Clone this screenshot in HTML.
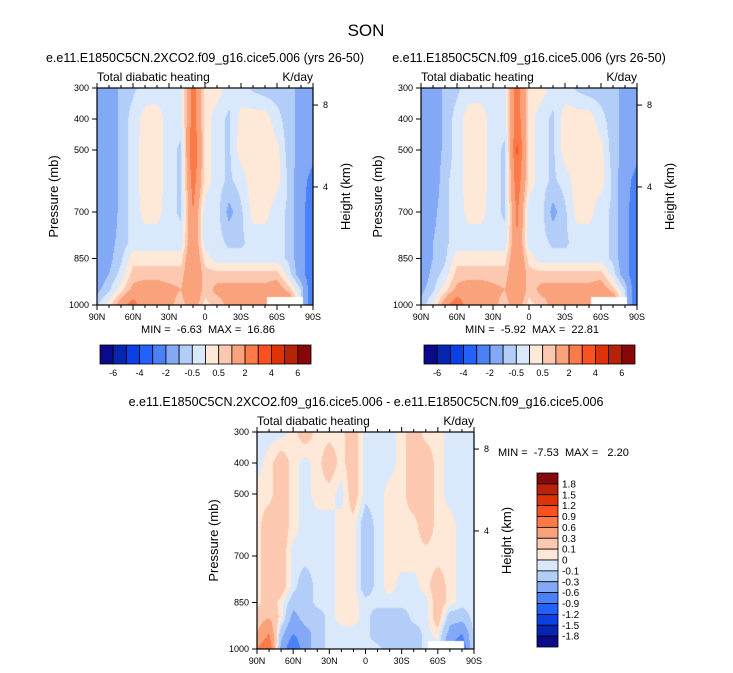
<!DOCTYPE html>
<html><head><meta charset="utf-8">
<style>
body{margin:0;background:#fff;width:733px;height:673px;overflow:hidden;position:relative;font-family:"Liberation Sans",sans-serif}
canvas{position:absolute}
svg{position:absolute;left:0;top:0}
</style></head>
<body>
<canvas id="c1" style="left:97px;top:88px" width="216" height="217"></canvas>
<canvas id="c2" style="left:421px;top:88px" width="216" height="217"></canvas>
<canvas id="c3" style="left:257px;top:432px" width="217" height="217"></canvas>
<svg id="ov" width="733" height="673" font-family="Liberation Sans, sans-serif">
<text x="366" y="36" font-size="17" text-anchor="middle">SON</text>
<text x="205" y="62" font-size="12.5" text-anchor="middle">e.e11.E1850C5CN.2XCO2.f09_g16.cice5.006 (yrs 26-50)</text>
<text x="529" y="62" font-size="12.5" text-anchor="middle">e.e11.E1850C5CN.f09_g16.cice5.006 (yrs 26-50)</text>
<text x="366" y="406" font-size="12.5" text-anchor="middle">e.e11.E1850C5CN.2XCO2.f09_g16.cice5.006 - e.e11.E1850C5CN.f09_g16.cice5.006</text>
<text x="208" y="333" font-size="11" text-anchor="middle" xml:space="preserve">MIN =  -6.63  MAX =  16.86</text>
<text x="532" y="333" font-size="11" text-anchor="middle" xml:space="preserve">MIN =  -5.92  MAX =  22.81</text>
<text x="498" y="456" font-size="11" xml:space="preserve">MIN =  -7.53  MAX =   2.20</text>
</svg>
<script>
const lats=[90,80,70,60,50,40,30,20,10,0,-10,-20,-30,-40,-50,-60,-70,-80,-90];
const levels=[300,400,500,600,700,800,850,900,950,1000];
const fieldCtl=[
[-1.5,-1.5,-0.8,-0.6,-0.3,-0.3,-0.3,-0.3,2.5,0.3,0.3,-0.3,-0.3,-0.6,-0.8,-0.8,-0.8,-1.2,-1.5],
[-1.5,-1.5,-0.8,-0.3,0.2,0.3,-0.3,-0.3,2.5,0.3,-0.3,-0.6,0.2,0.3,0.3,-0.3,-0.8,-1.2,-1.5],
[-1.5,-1.5,-0.8,-0.3,0.3,0.3,-0.3,-0.6,3.0,0.3,-0.3,-0.6,0.3,0.3,0.3,0.2,-0.8,-1.2,-1.5],
[-1.5,-1.5,-0.8,-0.3,0.3,0.3,-0.3,-0.6,2.5,0.3,-0.3,-0.6,-0.3,0.3,0.3,0.2,-0.6,-1.5,-2.5],
[-1.5,-1.5,-0.8,-0.3,0.2,0.2,-0.3,-0.6,2.0,-0.3,-0.3,-1.2,-0.6,0.2,0.2,-0.3,-0.6,-1.5,-3],
[-1.5,-1.2,-0.8,-0.3,-0.3,-0.3,-0.3,-0.3,2.0,-0.3,-0.3,-0.6,-0.6,-0.3,-0.3,-0.3,-0.6,-1.5,-3],
[-1.5,-1.2,-0.6,0.3,0.3,0.3,0.3,0.3,2.0,0.3,-0.3,-0.3,-0.3,-0.3,-0.3,-0.3,-0.6,-1.5,-3],
[-1.5,-1.0,-0.3,0.7,0.7,0.7,0.7,0.7,2.0,0.7,0.7,0.7,0.7,0.7,0.7,0.7,-0.3,-1.5,-3],
[-1.2,-0.6,0.3,1.2,1.5,1.5,1.2,1.0,2.0,0.7,1.2,1.2,1.2,1.2,1.2,1.5,0.7,-0.5,-3],
[-0.6,0.3,1.5,2.5,1.2,1.2,1.2,0.7,1.5,0.3,0.7,1.2,1.2,1.2,1.2,1.2,2.5,-0.6,-3]];
const field2x=[
[-1.5,-1.5,-0.8,-0.6,-0.3,-0.3,-0.3,-0.3,2.7,0.3,0.3,-0.3,-0.3,-0.6,-0.8,-0.8,-0.8,-1.2,-1.5],
[-1.5,-1.5,-0.8,-0.3,0.3,0.3,-0.3,-0.3,2.7,0.3,-0.3,-0.6,0.3,0.3,0.3,-0.3,-0.8,-1.2,-1.5],
[-1.5,-1.5,-0.8,-0.3,0.3,0.3,-0.3,-0.6,3.2,0.3,-0.3,-0.6,0.3,0.3,0.3,0.2,-0.8,-1.2,-1.5],
[-1.5,-1.5,-0.6,-0.3,0.3,0.3,-0.3,-0.6,2.7,0.3,-0.3,-0.6,-0.3,0.3,0.3,0.2,-0.6,-1.5,-2.5],
[-1.5,-1.2,-0.6,-0.3,0.2,0.2,-0.3,-0.6,2.2,-0.3,-0.3,-1.2,-0.6,0.2,0.2,-0.3,-0.6,-1.5,-3],
[-1.5,-1.0,-0.6,-0.3,-0.3,-0.3,-0.3,-0.3,2.0,-0.3,-0.3,-0.6,-0.6,-0.3,-0.3,-0.3,-0.6,-1.5,-3],
[-1.5,-1.0,-0.6,0.3,0.3,0.3,0.3,0.3,2.0,0.3,-0.3,-0.3,-0.3,-0.3,-0.3,-0.3,-0.6,-1.5,-3],
[-1.5,-0.8,-0.3,0.7,0.7,0.7,0.7,0.7,2.0,0.7,0.7,0.7,0.7,0.7,0.7,0.7,-0.3,-1.5,-3],
[-1.2,-0.6,0.3,1.2,1.5,1.5,1.2,1.0,2.0,0.7,1.2,1.2,1.2,1.2,1.2,1.5,0.7,-0.5,-3],
[-0.8,0.0,1.5,3.0,1.2,1.2,1.2,0.7,1.5,0.3,0.7,1.2,1.2,1.2,1.2,1.2,2.5,-0.6,-3]];
const fieldDiff=[
[-0.05,-0.05,-0.05,0.05,0.2,0.05,0.05,0.05,0.2,-0.05,-0.05,-0.05,0.05,0.2,0.05,0.05,-0.05,-0.05,-0.05],
[-0.05,0.05,0.2,0.05,-0.05,0.05,0.2,0.05,0.2,-0.05,-0.05,-0.05,0.05,0.2,0.2,0.05,-0.05,-0.05,-0.05],
[0.05,0.05,0.2,0.05,-0.05,0.05,0.05,-0.05,0.2,-0.05,-0.05,0.05,0.05,0.2,0.2,0.05,-0.05,-0.05,-0.05],
[0.05,0.2,0.2,0.05,-0.05,-0.05,-0.05,0.05,0.05,-0.2,-0.05,0.05,0.05,0.05,0.2,0.05,0.05,-0.05,-0.05],
[0.05,0.2,0.2,-0.05,-0.05,-0.05,-0.05,0.05,0.05,-0.2,-0.05,0.05,0.05,0.05,0.05,0.05,0.05,-0.05,-0.05],
[0.05,0.2,0.2,-0.05,-0.2,-0.05,-0.05,0.05,0.05,-0.2,-0.05,0.05,-0.05,-0.05,0.05,0.2,0.05,-0.05,-0.05],
[0.05,0.2,0.05,-0.2,-0.2,-0.05,-0.05,0.05,0.05,-0.05,-0.05,-0.05,-0.05,-0.05,-0.05,0.2,0.05,-0.05,-0.05],
[0.2,0.3,0.05,-0.4,-0.2,-0.2,-0.05,0.05,0.05,-0.05,-0.2,-0.2,-0.2,-0.05,-0.05,0.2,-0.2,-0.2,-0.05],
[0.3,0.6,-0.2,-0.6,-0.4,-0.2,-0.05,-0.05,-0.05,-0.05,-0.2,-0.2,-0.2,-0.2,-0.05,0.05,-0.4,-0.6,-0.05],
[0.6,0.9,-0.4,-0.9,-0.4,-0.2,-0.05,-0.05,-0.05,-0.05,-0.05,-0.2,-0.2,-0.2,-0.05,-0.05,-0.6,-0.9,-0.05]];
const bndTop=[-6,-5,-4,-3,-2,-1,-0.5,0,0.5,1,2,3,4,5,6];
const bndDiff=[-1.8,-1.5,-1.2,-0.9,-0.6,-0.3,-0.1,0,0.1,0.3,0.6,0.9,1.2,1.5,1.8];
const topLabels=["-6","-4","-2","-0.5","0.5","2","4","6"];
const diffLabels=["1.8","1.5","1.2","0.9","0.6","0.3","0.1","0","-0.1","-0.3","-0.6","-0.9","-1.2","-1.5","-1.8"];
const xTicks=["90N","60N","30N","0","30S","60S","90S"];
const pTicks=[300,400,500,700,850,1000];
const hTicks=[8,4];
const colors=["#0a0a8a","#0626b2","#0a40e4","#2262fa","#4a82f6","#82a8f6","#b2cdf8","#d9e8fb","#fee8d8","#fcc9b0","#f9a27c","#fb7a48","#fb5120","#e03208","#b82208","#870808"];

const NS="http://www.w3.org/2000/svg";
const ov=document.getElementById('ov');
function mk(tag,attrs){const e=document.createElementNS(NS,tag);for(const k in attrs)e.setAttribute(k,attrs[k]);ov.appendChild(e);return e;}
function colorOf(v,b){let i=0;while(i<b.length&&v>=b[i])i++;return colors[i];}
function sample(f,lat,p){
  let fx=(90-lat)/10; let i=Math.min(Math.floor(fx),17); let tx=fx-i;
  let j=0; while(j<levels.length-2&&p>levels[j+1])j++;
  let ty=(p-levels[j])/(levels[j+1]-levels[j]);
  const a=f[j][i],b=f[j][i+1],c=f[j+1][i],d=f[j+1][i+1];
  return a*(1-tx)*(1-ty)+b*tx*(1-ty)+c*(1-tx)*ty+d*tx*ty;
}
function drawField(id,f,b,W,H){
  const ctx=document.getElementById(id).getContext('2d');
  for(let x=0;x<W;x++)for(let y=0;y<H;y++){
    const lat=90-180*(x+0.5)/W, p=300+700*(y+0.5)/H;
    ctx.fillStyle=colorOf(sample(f,lat,p),b);ctx.fillRect(x,y,1,1);
  }
  ctx.fillStyle="#fff";
  ctx.fillRect(Math.round(W*142/180),H-8,Math.round(W*30/180),8);
}
drawField('c1',fieldCtl,bndTop,216,217);
drawField('c2',field2x,bndTop,216,217);
drawField('c3',fieldDiff,bndDiff,217,217);

function axes(L,T,W,H,tag){
  const fr=mk('rect',{x:L,y:T,width:W,height:H,fill:'none',stroke:'#000','stroke-width':1.2});
  
  
  const t1=mk('text',{x:L,y:T-7,'font-size':12});t1.textContent='Total diabatic heating';
  
  
  const t2=mk('text',{x:L+W,y:T-7,'font-size':12,'text-anchor':'end'});t2.textContent='K/day';
  
  
  for(let k=0;k<=18;k++){
    const x=L+W*k/18, len=(k%3==0)?5:3;
    mk('line',{x1:x,x2:x,y1:T+H,y2:T+H+len,stroke:'#000'});
    mk('line',{x1:x,x2:x,y1:T,y2:T-len,stroke:'#000'});
  }
  xTicks.forEach((s,k)=>{const e=mk('text',{x:L+W*k/6,y:T+H+15,'font-size':9,'text-anchor':'middle'});e.textContent=s;
    
    });
  pTicks.forEach(p=>{const y=T+H*(p-300)/700;mk('line',{x1:L-5,x2:L,y1:y,y2:y,stroke:'#000'});
    const e=mk('text',{x:L-8,y:y+3,'font-size':9,'text-anchor':'end'});e.textContent=p;
    
    });
  hTicks.forEach(h=>{const p=1080*Math.exp(-h/7.19);const y=T+H*(p-300)/700;
    mk('line',{x1:L+W,x2:L+W+5,y1:y,y2:y,stroke:'#000'});
    const e=mk('text',{x:L+W+10,y:y+3,'font-size':9});e.textContent=h;
    
    });
  const yl=mk('text',{x:0,y:0,'font-size':13,'text-anchor':'middle',transform:`translate(${L-39},${T+H/2}) rotate(-90)`});yl.textContent='Pressure (mb)';
  
  
  const hl=mk('text',{x:0,y:0,'font-size':13,'text-anchor':'middle',transform:`translate(${L+W+37},${T+H/2}) rotate(-90)`});hl.textContent='Height (km)';
  
  
}
axes(97,88,216,217,'left');
axes(421,88,216,217,'right');
axes(257,432,217,217,'diff');

function hbar(L){
  const w=211/16;
  colors.forEach((c,i)=>{const r=mk('rect',{x:L+i*w,y:345,width:w,height:19,fill:c,stroke:'#000','stroke-width':0.8});
    
    });
  topLabels.forEach((s,k)=>{const e=mk('text',{x:L+w*(2*k+1),y:376,'font-size':9,'text-anchor':'middle'});e.textContent=s;
    
    });
}
hbar(100);hbar(424);
const vh=174/16;
colors.slice().reverse().forEach((c,i)=>{const r=mk('rect',{x:537,y:473+i*vh,width:21,height:vh,fill:c,stroke:'#000','stroke-width':0.8});
  
  });
diffLabels.forEach((s,k)=>{const e=mk('text',{x:562,y:473+vh*(k+1)+3.5,'font-size':10});e.textContent=s;
  
  });
</script>
</body></html>
